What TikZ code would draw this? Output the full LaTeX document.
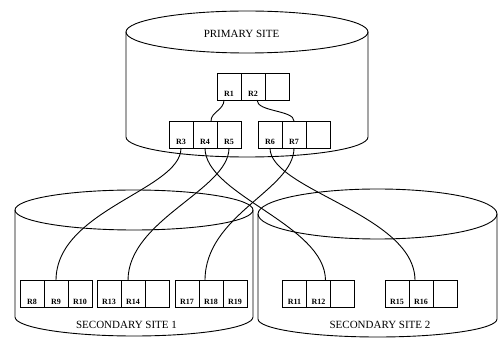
\documentclass[tikz,border=0pt]{standalone}
\usepackage{fontspec}
\setmainfont{Liberation Serif}
\usetikzlibrary{calc}
\begin{document}
\begin{tikzpicture}[x=1pt,y=1pt,line width=0.9pt,
  cell/.style={draw, minimum width=24pt, inner xsep=0pt, inner ysep=3pt,
    text height=21pt, text depth=0pt, outer sep=0pt,
    font=\fontsize{8}{8}\selectfont\bfseries},
  site/.style={font=\fontsize{11}{11}\selectfont},
  link/.style={line width=0.9pt}]
\useasboundingbox (0,0) rectangle (499,-339);
% cylinders
\draw (247,-32) ellipse [x radius=121pt, y radius=21pt];
\draw (126,-32) -- (126,-137) arc [start angle=180, end angle=360, x radius=121pt, y radius=20pt] -- (368,-32);
\draw (134,-210) ellipse [x radius=119pt, y radius=20pt];
\draw (15,-210) -- (15,-317) arc [start angle=180, end angle=360, x radius=119pt, y radius=19pt] -- (253,-210);
\draw (377.5,-214) ellipse [x radius=119.5pt, y radius=25pt];
\draw (258,-214) -- (258,-319) arc [start angle=180, end angle=360, x radius=119.5pt, y radius=18pt] -- (497,-214);
% labels
\node[site] (ps) at (241.5,-34) {PRIMARY SITE};
\node[site] (s1) at (126.5,-325) {SECONDARY SITE 1};
\node[site] (s2) at (380,-325) {SECONDARY SITE 2};
% top node
\node[cell] (R1) at (229,-86.5) {R1};
\node[cell] (R2) at (253,-86.5) {R2};
\node[cell] (T3) at (277,-86.5) {};
% level 2
\node[cell] (R3) at (181,-134.5) {R3};
\node[cell] (R4) at (205,-134.5) {R4};
\node[cell] (R5) at (229,-134.5) {R5};
\node[cell] (R6) at (270,-134.5) {R6};
\node[cell] (R7) at (294,-134.5) {R7};
\node[cell] (E2) at (318,-134.5) {};
% leaves site 1
\node[cell] (R8) at (32,-294) {R8};
\node[cell] (R9) at (56,-294) {R9};
\node[cell] (R10) at (80,-294) {R10};
\node[cell] (R13) at (109,-294) {R13};
\node[cell] (R14) at (133,-294) {R14};
\node[cell] (E14) at (157,-294) {};
\node[cell] (R17) at (187,-294) {R17};
\node[cell] (R18) at (211,-294) {R18};
\node[cell] (R19) at (235,-294) {R19};
% leaves site 2
\node[cell] (R11) at (294.5,-294) {R11};
\node[cell] (R12) at (318.5,-294) {R12};
\node[cell] (E12) at (342.5,-294) {};
\node[cell] (R15) at (397,-294) {R15};
\node[cell] (R16) at (421,-294) {R16};
\node[cell] (E16) at (445,-294) {};
% links
\draw[link] ($(R1.south)+(-5,0)$) .. controls +(0,-10) and +(0,9) .. ($(R4.north)+(6,0)$);
\draw[link] ($(R2.south)+(4,0)$) .. controls +(0,-12) and +(0,11) .. (R7.north);
\draw[link] (R3.south) .. controls +(0,-42) and +(0,71) .. (R9.north);
\draw[link] (R4.south) .. controls +(0,-47) and +(0,56) .. ($(R12.north)+(7,0)$);
\draw[link] (R5.south) .. controls +(0,-42) and +(0,61) .. ($(R14.north)+(-5,0)$);
\draw[link] (R6.south) .. controls +(0,-42) and +(0,66) .. ($(R16.north)+(-6,0)$);
\draw[link] (R7.south) .. controls +(0,-42) and +(0,66) .. ($(R18.north)+(-6,0)$);
\end{tikzpicture}
\end{document}
